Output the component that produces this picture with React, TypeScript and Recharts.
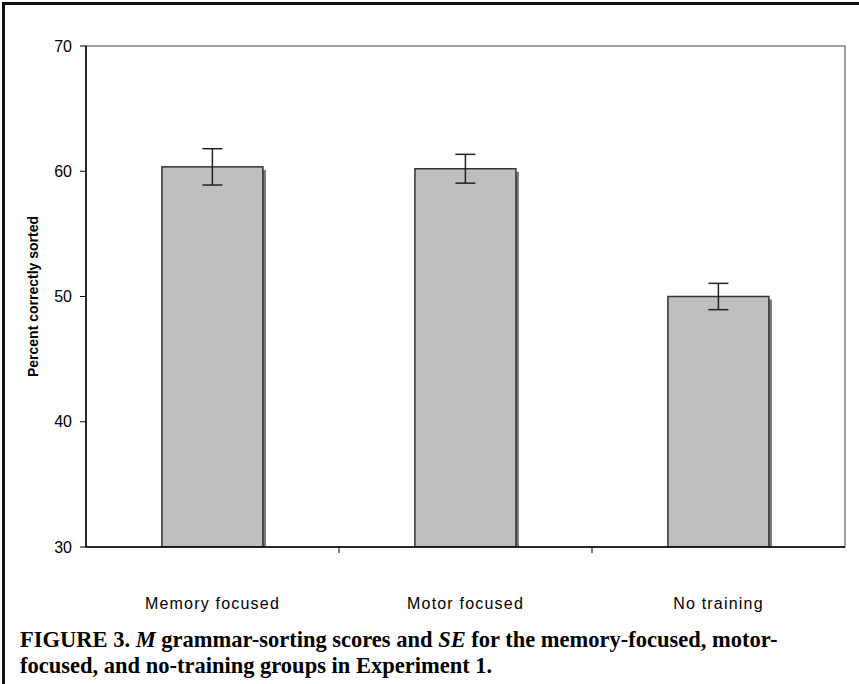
import React from "react"
import { BarChart, Bar, XAxis, YAxis, ErrorBar, ReferenceArea } from "recharts"

// Datos
const categories = ["Memory focused", "Motor focused", "No training"]
const means = [60.35, 60.2, 50.0]
const standardErrors = [1.45, 1.15, 1.05]
const yTicks = [30, 40, 50, 60, 70]

const data = categories.map((group, i) => ({
  group,
  mean: means[i],
  se: standardErrors[i],
}))

const SANS = "'Liberation Sans', Arial, sans-serif"

// Barra gris con sombra desplazada
function ShadowBar(props: any) {
  const { x, y, width, height } = props
  if (width == null || height == null) return null
  return (
    <g>
      <rect x={x + 3} y={y + 3} width={width} height={Math.max(height - 3, 0)} fill="#777" />
      <rect x={x} y={y} width={width} height={height} fill="#bfbfbf" stroke="#333" strokeWidth={1.5} />
    </g>
  )
}

// Etiqueta del eje X con marcas entre categorías
function GroupTick(props: any) {
  const { x, y, payload, index } = props
  const count = props.visibleTicksCount ?? categories.length
  const half = payload.offset ?? 0
  return (
    <g>
      {index < count - 1 && (
        <line x1={x + half} x2={x + half} y1={y} y2={y + 6} stroke="#000" strokeWidth={1} />
      )}
      <text
        x={x}
        y={y + 62}
        textAnchor="middle"
        fontSize={16}
        letterSpacing={1.2}
        fontFamily={SANS}
        fill="#000"
      >
        {payload.value}
      </text>
    </g>
  )
}

export default function App() {
  return (
    <div style={{ position: "absolute", left: 0, top: 0, width: 859, height: 684, background: "#fff" }}>
      <div style={{ position: "absolute", left: 2, top: 2, width: 857, height: 3, background: "#111" }} />
      <div style={{ position: "absolute", left: 2, top: 2, width: 3, height: 682, background: "#111" }} />
      <div style={{ position: "absolute", left: 0, top: 0 }}>
        <BarChart
          width={859}
          height={640}
          data={data}
          margin={{ top: 46, right: 14, bottom: 0, left: 0 }}
          barCategoryGap="30%"
        >
          <ReferenceArea y1={30} y2={70} fill="none" stroke="#808080" strokeWidth={1.5} ifOverflow="visible" />
          <XAxis
            dataKey="group"
            height={93}
            axisLine={{ stroke: "#000", strokeWidth: 1.5 }}
            tickLine={false}
            tickSize={0}
            tickMargin={0}
            tick={<GroupTick />}
            interval={0}
          />
          <YAxis
            width={86}
            domain={[30, 70]}
            ticks={yTicks}
            allowDataOverflow
            axisLine={{ stroke: "#000", strokeWidth: 1.5 }}
            tickLine={{ stroke: "#000" }}
            tickSize={6}
            tickMargin={8}
            tick={{ fontSize: 16, fontFamily: SANS, fill: "#000" }}
            label={{
              value: "Percent correctly sorted",
              angle: -90,
              position: "center",
              dx: -10,
              style: { fontSize: 14, fontWeight: 700, fontFamily: SANS, fill: "#000" },
            }}
          />
          <Bar dataKey="mean" shape={<ShadowBar />} isAnimationActive={false}>
            <ErrorBar dataKey="se" width={10} stroke="#222" strokeWidth={1.5} isAnimationActive={false} />
          </Bar>
        </BarChart>
      </div>
      <div
        style={{
          position: "absolute",
          left: 20,
          top: 627,
          width: 835,
          fontFamily: "'Liberation Serif', 'Times New Roman', serif",
          fontWeight: 700,
          fontSize: 22.5,
          lineHeight: "26px",
          color: "#000",
          whiteSpace: "nowrap",
        }}
      >
        FIGURE 3. <i>M</i> grammar-sorting scores and <i>SE</i> for the memory-focused, motor-
        <br />
        focused, and no-training groups in Experiment 1.
      </div>
    </div>
  )
}
